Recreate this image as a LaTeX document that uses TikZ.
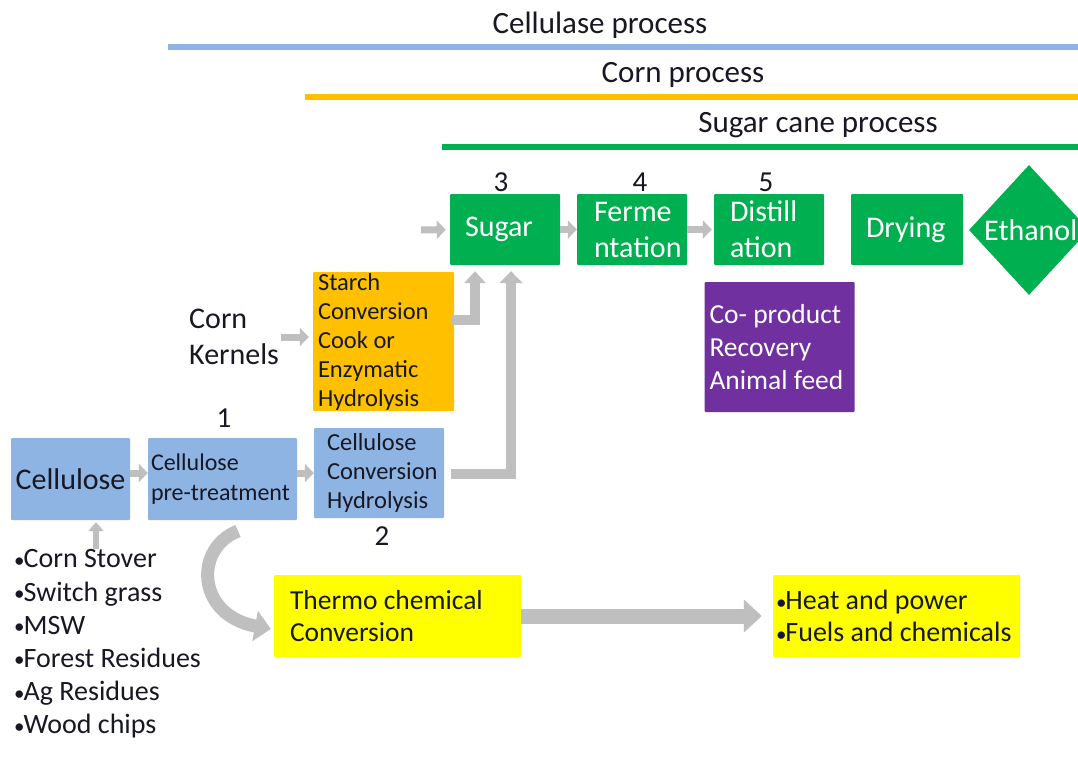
\documentclass[tikz,border=0pt]{standalone}
\usepackage{fontspec}
\setmainfont{Carlito}
\usetikzlibrary{arrows.meta,shapes.geometric,calc}

\definecolor{cblue}{RGB}{142,180,227}
\definecolor{corange}{RGB}{255,192,0}
\definecolor{cgreen}{RGB}{0,176,80}
\definecolor{cpurple}{RGB}{112,48,160}
\definecolor{cyellow}{RGB}{255,255,0}
\definecolor{cgrey}{RGB}{191,191,191}
\definecolor{ink}{RGB}{24,24,36}

\newcommand\fsz[2]{\fontsize{#1}{#2}\selectfont}
% small list bullet set tight against its word
\newcommand\bul{{\fontsize{21}{21}\selectfont\raisebox{0.6pt}{•}}\kern-1pt}

\tikzset{
  box/.style={rectangle, inner ysep=0pt, align=flush left, text=ink, rounded corners=1pt},
  gbox/.style={box, fill=cgreen, text=white, minimum height=71pt, font=\fsz{30}{36}},
  plain/.style={inner sep=0pt, text=ink},
  num/.style={plain, font=\fsz{29}{34}},
  title/.style={plain, font=\fsz{31}{36}},
  bar/.style={line width=6pt},
  garrow/.style={draw=cgrey, line width=7pt, -{Triangle[width=18pt,length=9pt]}},
  barrow/.style={draw=cgrey, line width=10.5pt, -{Triangle[width=23pt,length=12pt]}},
}

\begin{document}
\begin{tikzpicture}[x=1pt,y=-1pt]
\useasboundingbox (0,0) rectangle (1078,765);
\clip (0,0) rectangle (1078,765);
\fill[white] (0,0) rectangle (1078,765);

% process ranges across the top
\node[title] (tcell) at (600,25) {Cellulase process};
\draw[bar, cblue] (168,47) -- (1078,47);
\node[title] (tcorn) at (683,75) {Corn process};
\draw[bar, corange] (305,97) -- (1078,97);
\node[title] (tcane) at (818,125) {Sugar cane process};
\draw[bar, cgreen] (442,147) -- (1078,147);

% cellulose route
\node[box, fill=cblue, minimum width=119pt, minimum height=82pt, align=center,
      font=\fsz{30}{36}] (cell) at (70.5,479) {Cellulose};
\node[box, fill=cblue, minimum height=82pt, inner xsep=3pt, text width=143pt,
      font=\fsz{24}{30}] (pre) at (222.5,479) {Cellulose\\pre-treatment};
\node[box, fill=cblue, minimum height=90pt, inner xsep=13pt, text width=104pt,
      font=\fsz{24.5}{29}] (conv) at (379,473) {Cellulose\\Conversion\\Hydrolysis};

% corn route
\node[plain, anchor=west, align=flush left, font=\fsz{30}{36}] (kern) at (189,337) {Corn\\Kernels};
\node[box, fill=corange, minimum height=139pt, inner xsep=5pt, text width=131pt,
      font=\fsz{24.5}{29}] (starch) at (383.5,341.5)
      {Starch\\Conversion\\Cook or\\Enzymatic\\Hydrolysis};

% common sugar route
\node[gbox, inner xsep=15pt, text width=80pt] (sugar) at (505,229.5) {Sugar};
\node[gbox, inner xsep=17pt, text width=76pt] (ferm) at (632,229.5) {Ferme\\ntation};
\node[gbox, inner xsep=16pt, text width=78pt] (dist) at (769,229.5) {Distill\\ation};
\node[gbox, inner xsep=15pt, text width=82pt] (dry) at (907,229.5) {Drying};
\node[diamond, fill=cgreen, minimum width=120pt, minimum height=130pt, inner sep=0pt]
      (eth) at (1029,230) {};
\node[plain, anchor=west, text=white, font=\fsz{30}{36}] (ethtxt) at (984,230) {Ethanol};

\node[box, fill=cpurple, text=white, minimum height=130pt, inner xsep=5pt, text width=140pt,
      font=\fsz{27.5}{33}] (coprod) at (779.5,347) {Co- product\\Recovery\\Animal feed};

% step numbers
\node[num] (n1) at (224,418) {1};
\node[num] (n2) at (382,536) {2};
\node[num] (n3) at (501,182) {3};
\node[num] (n4) at (640,182) {4};
\node[num] (n5) at (766,182) {5};

% feedstocks
\node[plain, anchor=west, align=flush left, font=\fsz{28}{33.2}] (feed) at (14,644)
  {\bul Corn Stover\\\bul Switch grass\\\bul MSW\\\bul Forest Residues\\\bul Ag Residues\\\bul Wood chips};

% thermochemical branch
\node[box, fill=cyellow, minimum height=82pt, inner xsep=16pt, text width=215pt,
      font=\fsz{27.5}{32}] (thermo) at (397.5,616) {Thermo chemical\\Conversion};
\node[box, fill=cyellow, minimum height=82pt, inner xsep=3pt, text width=241pt,
      font=\fsz{28}{32}] (heat) at (896.5,616) {\bul Heat and power\\\bul Fuels and chemicals};

% connectors
\coordinate (sugin) at (421,230);
\coordinate (feedtop) at (96,549);
\coordinate (curlstart) at (238,531);

\draw[garrow] ($(cell.east)+(0,-6)$) -- ($(pre.west)+(0,-6)$);
\draw[garrow] ($(pre.east)+(0,-6)$) -- (conv.west);
\draw[garrow, line width=6pt, -{Triangle[width=15pt,length=9pt]}, shorten >=2pt]
      (feedtop) -- (feedtop |- cell.south);
\draw[garrow, shorten <=2pt, shorten >=4pt] (kern.east) -- (kern.east -| starch.west);
\draw[garrow, shorten >=4pt] (sugin) -- (sugar.west);
\draw[garrow] (sugar.east) -- (ferm.west);
\draw[garrow, shorten >=2pt] (ferm.east) -- (dist.west);

\draw[barrow, line width=10pt, -{Triangle[width=21pt,length=12pt]}, line join=miter]
      ($(starch.east)+(-2,-22)$) -| ($(sugar.south)+(-30,6)$);
\draw[barrow, line join=miter]
      ($(conv.east)+(7,1)$) -| ($(sugar.south)+(6,6)$);

\draw[draw=cgrey, line width=13pt, -{Triangle[width=30pt,length=16pt]}]
      (curlstart) .. controls (194,548) and (196,615) .. ($(thermo.west)+(-3,13)$);
\draw[draw=cgrey, line width=15pt, -{Triangle[width=32pt,length=18pt]}, shorten >=11pt]
      (thermo.east) -- (heat.west);
\end{tikzpicture}
\end{document}
